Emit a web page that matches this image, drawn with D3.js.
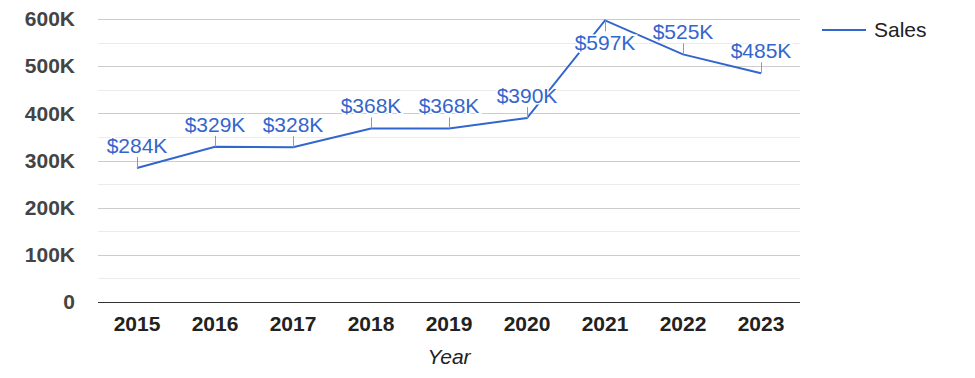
<!DOCTYPE html>
<html>
<head>
<meta charset="utf-8">
<script src="https://cdn.jsdelivr.net/npm/d3@7"></script>
<style>
	body { margin: 0; background: #fff; }
	svg { display: block; font-family: Arial, "Liberation Sans", sans-serif; }
</style>
</head>
<body>
<div class="chart"></div>
<script>
var years = ["2015", "2016", "2017", "2018", "2019", "2020", "2021", "2022", "2023"];
var sales = [284000, 329000, 328000, 368000, 368000, 390000, 597000, 525000, 485000];
var yTicks = [0, 100000, 200000, 300000, 400000, 500000, 600000];
var yMinorTicks = [50000, 150000, 250000, 350000, 450000, 550000];
var seriesName = "Sales";
var xTitle = "Year";

var width = 975;
var height = 378;
var margin = { top: 19, right: 175, bottom: 76, left: 98 };
var color = "#3366cc";
var fontSize = 21;

var svg = d3.select(".chart")
	.append("svg")
	.attr("width", width)
	.attr("height", height);

var x = d3.scaleBand()
	.domain(years)
	.range([margin.left, width - margin.right]);

var y = d3.scaleLinear()
	.domain([0, 600000])
	.range([height - margin.bottom, margin.top]);

// gridlines
svg.append("g")
	.selectAll("line")
	.data(yMinorTicks)
	.enter()
	.append("line")
	.attr("x1", margin.left)
	.attr("x2", width - margin.right)
	.attr("y1", function(d) { return Math.round(y(d)) + 0.5; })
	.attr("y2", function(d) { return Math.round(y(d)) + 0.5; })
	.attr("stroke", "#ebebeb");

svg.append("g")
	.selectAll("line")
	.data(yTicks.slice(1))
	.enter()
	.append("line")
	.attr("x1", margin.left)
	.attr("x2", width - margin.right)
	.attr("y1", function(d) { return Math.round(y(d)) + 0.5; })
	.attr("y2", function(d) { return Math.round(y(d)) + 0.5; })
	.attr("stroke", "#cccccc");

// y axis labels
var yAxis = d3.axisLeft(y)
	.tickValues(yTicks)
	.tickSize(0)
	.tickPadding(0)
	.tickFormat(function(d) { return d === 0 ? "0" : (d / 1000) + "K"; });

svg.append("g")
	.attr("transform", "translate(75,0)")
	.call(yAxis)
	.call(function(g) { g.select(".domain").remove(); })
	.selectAll("text")
	.attr("font-family", "Arial, 'Liberation Sans', sans-serif")
	.attr("font-size", fontSize)
	.attr("font-weight", "bold")
	.attr("fill", "#444");

// x axis labels
var xAxis = d3.axisBottom(x).tickSize(0).tickPadding(14);

svg.append("g")
	.attr("transform", "translate(0," + y(0) + ")")
	.call(xAxis)
	.call(function(g) { g.select(".domain").remove(); })
	.selectAll("text")
	.attr("font-family", "Arial, 'Liberation Sans', sans-serif")
	.attr("font-size", fontSize)
	.attr("font-weight", "bold")
	.attr("fill", "#222");

// baseline
svg.append("line")
	.attr("x1", margin.left)
	.attr("x2", width - margin.right)
	.attr("y1", Math.round(y(0)) + 0.5)
	.attr("y2", Math.round(y(0)) + 0.5)
	.attr("stroke", "#333");

// axis title
svg.append("text")
	.attr("x", (margin.left + width - margin.right) / 2)
	.attr("y", 364)
	.attr("text-anchor", "middle")
	.attr("font-size", fontSize)
	.attr("font-style", "italic")
	.attr("fill", "#222")
	.text(xTitle);

// line
var line = d3.line()
	.x(function(d, i) { return x(years[i]) + x.bandwidth() / 2; })
	.y(function(d) { return y(d); });

svg.append("path")
	.datum(sales)
	.attr("fill", "none")
	.attr("stroke", color)
	.attr("stroke-width", 2)
	.attr("d", line);

// annotations
var ann = svg.append("g")
	.selectAll("g")
	.data(sales)
	.enter()
	.append("g")
	.attr("transform", function(d, i) {
		return "translate(" + (x(years[i]) + x.bandwidth() / 2) + "," + y(d) + ")";
	});

function below(d) { return y(d) < 40; }

ann.append("line")
	.attr("x1", 0.5)
	.attr("x2", 0.5)
	.attr("y1", 0)
	.attr("y2", function(d) { return below(d) ? 11 : -11; })
	.attr("stroke", "#999");

ann.append("text")
	.attr("text-anchor", "middle")
	.attr("y", function(d) { return below(d) ? 30 : -15; })
	.attr("font-size", fontSize)
	.attr("fill", color)
	.attr("stroke", "#fff")
	.attr("stroke-width", 3)
	.attr("paint-order", "stroke")
	.text(function(d) { return "$" + Math.round(d / 1000) + "K"; });

// legend
var legend = svg.append("g").attr("transform", "translate(822,30)");
legend.append("line")
	.attr("x1", 0)
	.attr("x2", 44)
	.attr("stroke", color)
	.attr("stroke-width", 2);
legend.append("text")
	.attr("x", 52)
	.attr("y", 7)
	.attr("font-size", fontSize)
	.attr("fill", "#222")
	.text(seriesName);
</script>
</body>
</html>
